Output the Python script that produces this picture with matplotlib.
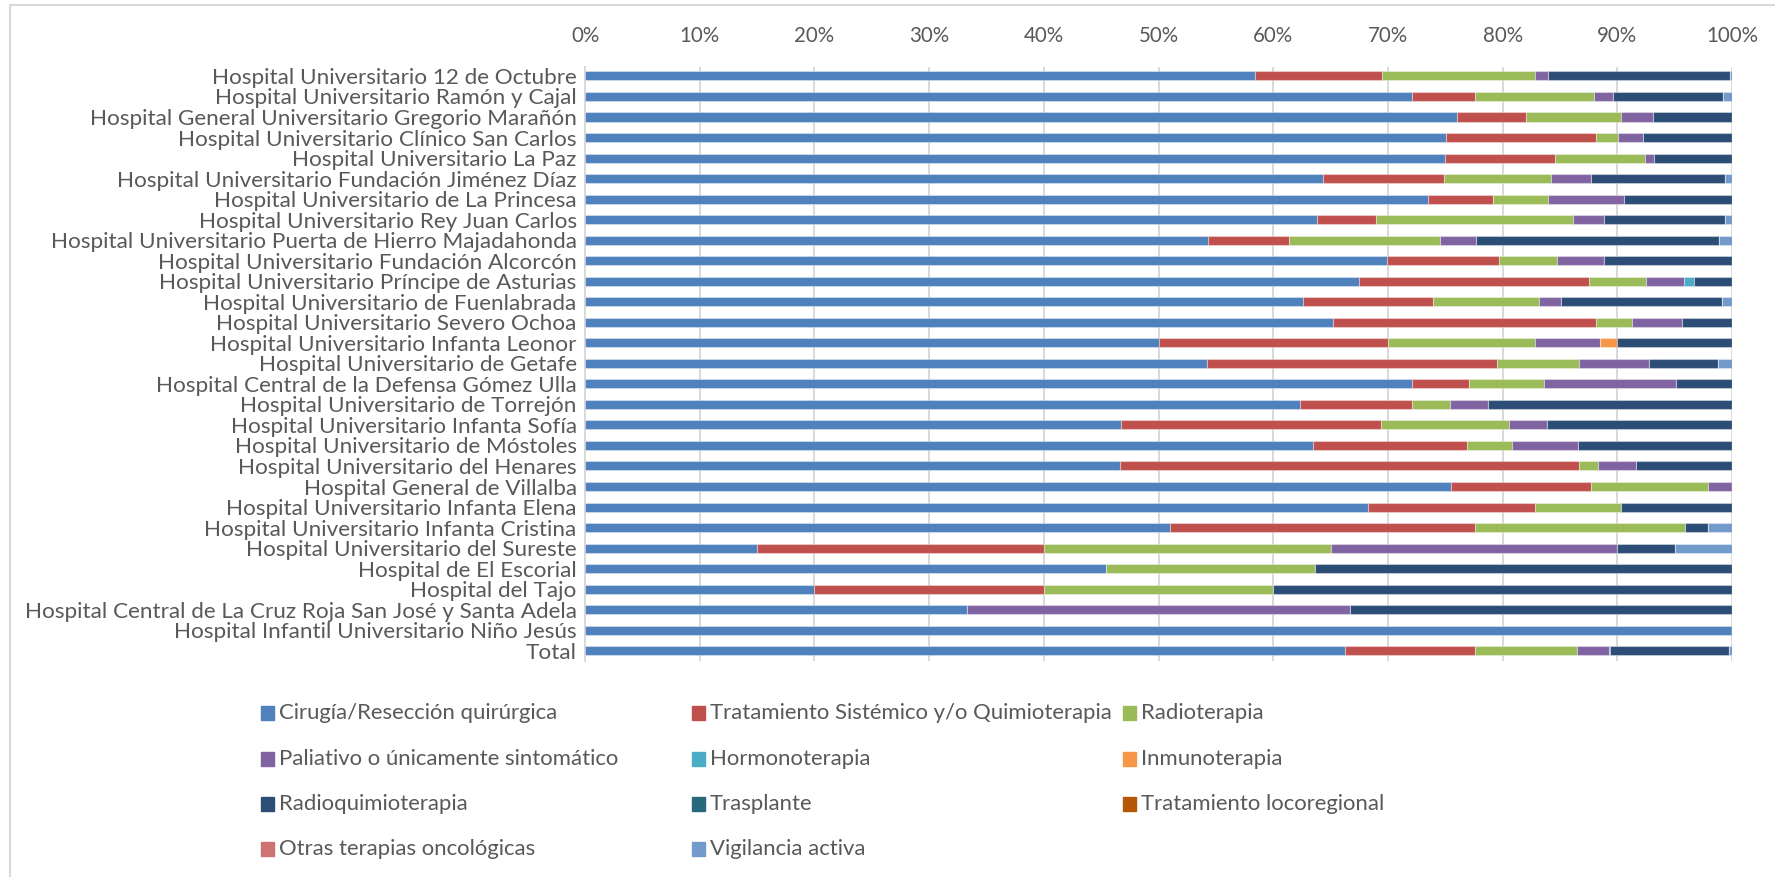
import matplotlib
matplotlib.use("Agg")
import matplotlib.pyplot as plt
from matplotlib.patches import Rectangle
import numpy as np

plt.rcParams['font.family'] = ['Lato', 'DejaVu Sans']

hospitales = [
    "Hospital Universitario 12 de Octubre",
    "Hospital Universitario Ramón y Cajal",
    "Hospital General Universitario Gregorio Marañón",
    "Hospital Universitario Clínico San Carlos",
    "Hospital Universitario La Paz",
    "Hospital Universitario Fundación Jiménez Díaz",
    "Hospital Universitario de La Princesa",
    "Hospital Universitario Rey Juan Carlos",
    "Hospital Universitario Puerta de Hierro Majadahonda",
    "Hospital Universitario Fundación Alcorcón",
    "Hospital Universitario Príncipe de Asturias",
    "Hospital Universitario de Fuenlabrada",
    "Hospital Universitario Severo Ochoa",
    "Hospital Universitario Infanta Leonor",
    "Hospital Universitario de Getafe",
    "Hospital Central de la Defensa Gómez Ulla",
    "Hospital Universitario de Torrejón",
    "Hospital Universitario Infanta Sofía",
    "Hospital Universitario de Móstoles",
    "Hospital Universitario del Henares",
    "Hospital General de Villalba",
    "Hospital Universitario Infanta Elena",
    "Hospital Universitario Infanta Cristina",
    "Hospital Universitario del Sureste",
    "Hospital de El Escorial",
    "Hospital del Tajo",
    "Hospital Central de La Cruz Roja San José y Santa Adela",
    "Hospital Infantil Universitario Niño Jesús",
    "Total",
]

tratamientos = [
    "Cirugía/Resección quirúrgica",
    "Tratamiento Sistémico y/o Quimioterapia",
    "Radioterapia",
    "Paliativo o únicamente sintomático",
    "Hormonoterapia",
    "Inmunoterapia",
    "Radioquimioterapia",
    "Trasplante",
    "Tratamiento locoregional",
    "Otras terapias oncológicas",
    "Vigilancia activa",
]

# porcentajes por hospital (mismo orden que hospitales)
cirugia = [58.4, 72.1, 76.0, 75.1, 75.0, 64.3, 73.5, 63.8, 54.3, 69.9, 67.5, 62.6, 65.2, 50.0, 54.2,
           72.1, 62.3, 46.7, 63.5, 46.6, 75.5, 68.3, 51.0, 15.0, 45.45, 20.0, 33.33, 100.0, 66.3]
sistemico = [11.1, 5.5, 6.0, 13.0, 9.6, 10.6, 5.7, 5.2, 7.1, 9.8, 20.0, 11.3, 22.9, 20.0, 25.3,
             5.0, 9.8, 22.7, 13.4, 40.1, 12.2, 14.5, 26.6, 25.0, 0.0, 20.0, 0.0, 0.0, 11.3]
radioterapia = [13.3, 10.4, 8.3, 2.0, 7.8, 9.3, 4.8, 17.1, 13.1, 5.0, 5.0, 9.3, 3.2, 12.8, 7.2,
                6.5, 3.3, 11.2, 3.9, 1.6, 10.2, 7.5, 18.3, 25.0, 18.18, 20.0, 0.0, 0.0, 8.9]
paliativo = [1.2, 1.6, 2.8, 2.1, 0.8, 3.5, 6.6, 2.7, 3.2, 4.1, 3.3, 1.9, 4.3, 5.7, 6.1,
             11.5, 3.3, 3.3, 5.8, 3.3, 2.1, 0.0, 0.0, 25.0, 0.0, 0.0, 33.33, 0.0, 2.8]
hormonoterapia = [0, 0, 0, 0, 0, 0, 0, 0, 0, 0, 0.9, 0, 0, 0, 0,
                  0, 0, 0, 0, 0, 0, 0, 0, 0, 0, 0, 0, 0, 0.05]
inmunoterapia = [0, 0, 0, 0, 0, 0, 0, 0, 0, 0, 0, 0, 0, 1.5, 0,
                 0, 0, 0, 0, 0, 0, 0, 0, 0, 0, 0, 0, 0, 0.05]
radioquimio = [15.8, 9.6, 6.9, 7.8, 6.8, 11.7, 9.4, 10.6, 21.2, 11.2, 3.3, 14.0, 4.4, 10.0, 6.0,
               4.9, 21.3, 16.1, 13.4, 8.4, 0.0, 9.7, 2.0, 5.0, 36.37, 40.0, 33.34, 0.0, 10.3]
trasplante = [0] * 29
locoregional = [0] * 29
otras = [0] * 29
vigilancia = [0.2, 0.8, 0, 0, 0, 0.6, 0, 0.6, 1.1, 0, 0, 0.9, 0, 0, 1.2,
              0, 0, 0, 0, 0, 0, 0, 2.1, 5.0, 0, 0, 0, 0, 0.3]

series = [cirugia, sistemico, radioterapia, paliativo, hormonoterapia, inmunoterapia,
          radioquimio, trasplante, locoregional, otras, vigilancia]
colores = ["#4F81BD", "#C0504D", "#9BBB59", "#8064A2", "#4BACC6", "#F79646",
           "#2C4D75", "#276A7C", "#B65708", "#CD7371", "#729ACA"]

W, H = 1775, 877
fig = plt.figure(figsize=(W / 100, H / 100), dpi=100)
ax = fig.add_axes([585 / W, 1 - 661 / H, (1732 - 585) / W, (661 - 66.7) / H])

y = np.arange(len(hospitales))
left = np.zeros(len(hospitales))
for vals, col in zip(series, colores):
    vals = np.array(vals, dtype=float)
    ax.barh(y, vals, left=left, height=0.44, color=col,
            edgecolor=(1, 1, 1, 0.35), linewidth=0.8, zorder=3)
    left += vals

ax.set_xlim(0, 100)
ax.set_ylim(28.5, -0.45)
ax.set_yticks(y)
ax.set_yticklabels(hospitales)
ax.set_xticks(np.arange(0, 101, 10))
ax.set_xticklabels([f"{v}%" for v in range(0, 101, 10)])
ax.xaxis.tick_top()
ax.tick_params(axis='both', length=0, colors="#595959")
ax.tick_params(axis='y', pad=6, labelsize=16.2)
ax.tick_params(axis='x', pad=15, labelsize=14.8)
ax.grid(axis='x', color="#D9D9D9", linewidth=1.4, zorder=0)
ax.set_axisbelow(True)
for s in ['top', 'right', 'bottom']:
    ax.spines[s].set_visible(False)
ax.spines['left'].set_color("#D9D9D9")
ax.spines['left'].set_linewidth(1.4)

# leyenda en filas (como Excel)
col_x = [261, 692, 1123]
row_y = [713, 759, 804, 849]
for i, (name, col) in enumerate(zip(tratamientos, colores)):
    r, c = divmod(i, 3)
    x0, y0 = col_x[c], row_y[r]
    fig.patches.append(Rectangle((x0 / W, 1 - (y0 + 7) / H), 13 / W, 14 / H,
                                 transform=fig.transFigure, color=col))
    fig.text((x0 + 18) / W, 1 - y0 / H, name, fontsize=15.9, color="#595959",
             va='center', ha='left')

# borde del área del gráfico
fig.patches.append(Rectangle((9.5 / W, -0.05), 1.1, 1 - 4.5 / H + 0.05,
                             transform=fig.transFigure, fill=False,
                             edgecolor="#D9D9D9", linewidth=1.5))

fig.savefig("out.png", dpi=100)
